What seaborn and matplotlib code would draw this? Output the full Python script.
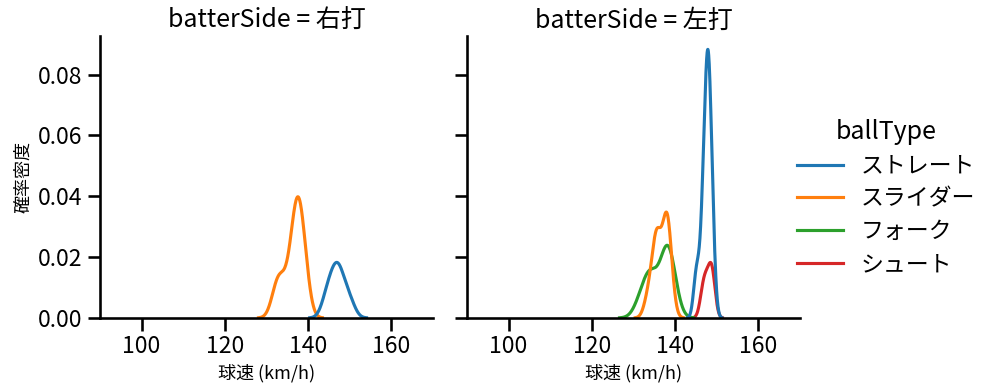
import numpy as np
import pandas as pd
import seaborn as sns
import matplotlib
matplotlib.use("Agg")
import matplotlib.pyplot as plt

# ---- data (pitch speeds, km/h) ----
side_labels = ["右打", "左打"]
type_labels = ["ストレート", "スライダー", "フォーク", "シュート"]

right_straight = [144.3, 145.4, 146.4, 147.0, 147.5, 148.5, 150.1]
right_slider = [132.0, 133.0, 133.5, 135.0, 136.0, 136.5, 137.0, 137.0,
                137.5, 137.5, 138.0, 138.0, 138.5, 139.0, 139.5]

left_straight = [144.9, 145.6, 146.5, 146.8, 147.0, 147.2, 147.4, 147.6, 147.8,
                 147.9, 148.0, 148.0, 148.2, 148.4, 148.6, 148.8, 149.3]
left_slider = [133.5, 134.8, 135.3, 135.6, 135.8, 136.2,
               137.6, 137.8, 138.0, 138.1, 138.3, 138.9]
left_fork = [131.5, 133.0, 133.8, 134.3, 135.0, 137.0, 137.6, 138.0,
             138.2, 138.5, 139.0, 139.6]
left_shoot = [146.7, 147.6, 148.7, 148.95]

groups = [
    ("右打", "ストレート", right_straight),
    ("右打", "スライダー", right_slider),
    ("左打", "ストレート", left_straight),
    ("左打", "スライダー", left_slider),
    ("左打", "フォーク", left_fork),
    ("左打", "シュート", left_shoot),
]
rows = []
for side, bt, vals in groups:
    for v in vals:
        rows.append({"batterSide": side, "ballType": bt, "speed": v})
df = pd.DataFrame(rows)

sns.set_context("talk")
plt.rcParams["font.family"] = ["Noto Sans CJK JP", "DejaVu Sans"]

g = sns.displot(data=df, x="speed", hue="ballType", col="batterSide", kind="kde",
                col_order=side_labels, hue_order=type_labels, palette="tab10",
                height=3.9, aspect=1.0)
g.set(xlim=(90, 170), xticks=[100, 120, 140, 160], ylim=(0, None))
for ax in g.axes.flat:
    ax.set_xlabel("球速 (km/h)", fontsize=13)
g.axes.flat[0].set_ylabel("確率密度", fontsize=13)
g.set_titles("batterSide = {col_name}")

g.figure.set_size_inches(9.95, 3.91)
g.figure.subplots_adjust(left=0.1005, right=0.804, bottom=0.187, top=0.908, wspace=0.102)
sns.move_legend(g, "center left", bbox_to_anchor=(0.78, 0.495), frameon=False,
                labelspacing=0.43)
g.figure.savefig("out.png", dpi=100)
